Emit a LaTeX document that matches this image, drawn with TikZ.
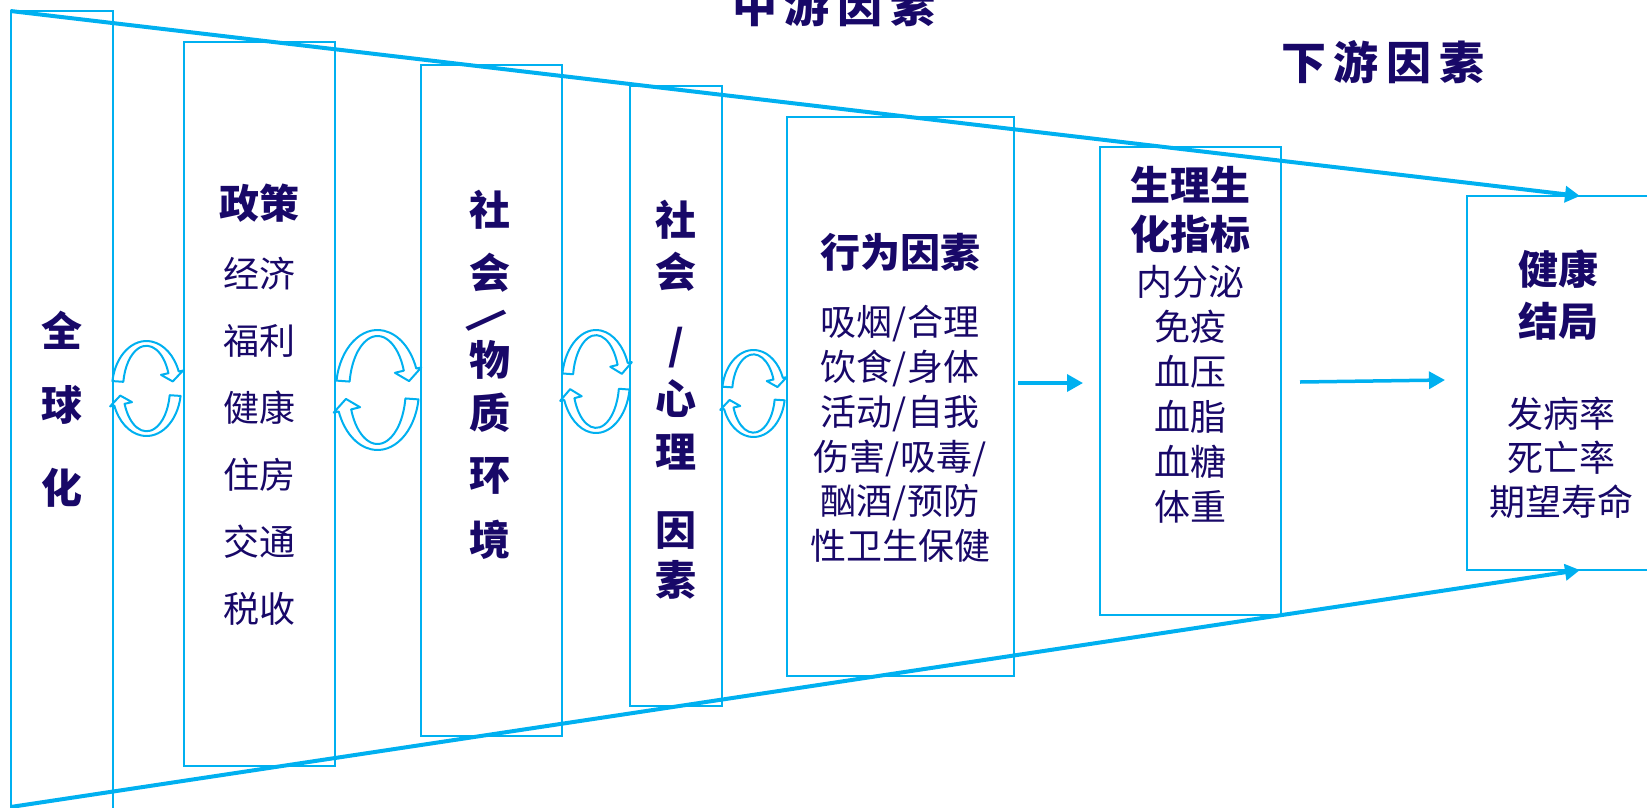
\documentclass[tikz,border=0pt]{standalone}
\usepackage{fontspec}
\setmainfont{Noto Sans CJK SC}
\usetikzlibrary{arrows.meta}
\definecolor{ln}{HTML}{00B0F0}
\definecolor{tx}{RGB}{24,8,104}
\newcommand\cycpair[4]{%
  \begin{scope}[shift={(#1,#2)},x=1pt,y=1pt]
    \pgfmathsetmacro\oa{#3}\pgfmathsetmacro\ob{#4}%
    \pgfmathsetmacro\ia{0.68*#3}\pgfmathsetmacro\ib{0.9*#4}%
    \pgfmathsetmacro\ta{0.77*#3}\pgfmathsetmacro\tb{0.95*#4}%
    \pgfmathsetmacro\woa{1.13*#3}\pgfmathsetmacro\wob{1.05*#4}%
    \pgfmathsetmacro\wia{0.45*#3}\pgfmathsetmacro\wib{0.8*#4}%
    \foreach \r in {0,180}{
      \filldraw[cycarrow,rotate=\r] (171:\oa\space and \ob)
        arc[start angle=171,end angle=21,x radius=\oa,y radius=\ob]
        -- (21:\woa\space and \wob) -- (9:\ta\space and \tb) -- (21:\wia\space and \wib)
        -- (21:\ia\space and \ib)
        arc[start angle=21,end angle=171,x radius=\ia,y radius=\ib] -- cycle;
    }
  \end{scope}}
\begin{document}
\begin{tikzpicture}[x=1pt,y=-1pt,
  box/.style={draw=ln,line width=2pt,inner sep=0pt,outer sep=0pt,rectangle},
  funnel/.style={draw=ln,line width=4pt,-{Triangle[length=15pt,width=16pt]}},
  conn/.style={draw=ln,line width=3.5pt,-{Triangle[length=16pt,width=17pt]}},
  cycarrow/.style={draw=ln,fill=white,line width=2pt,line join=round},
  vb/.style={text=tx,inner sep=0pt,font=\fontsize{41}{48}\selectfont\bfseries},
  hb/.style={text=tx,inner sep=0pt,align=center},
  hr/.style={text=tx,inner sep=0pt,align=center},
  ttl/.style={text=tx,inner sep=0pt,font=\fontsize{45}{50}\selectfont\bfseries}]
\useasboundingbox (0,0) rectangle (1647,807);
% circular arrows
\cycpair{146.5}{388.5}{34.5}{47.5}
\cycpair{377.5}{390}{41.5}{60}
\cycpair{596}{381.5}{34}{51.5}
\cycpair{753.5}{393.5}{31.5}{43.5}
% boxes
\node[box,minimum width=102.5pt,minimum height=889pt] (b1) at (61.75,455.5) {};
\node[box,minimum width=151pt,minimum height=724pt] (b2) at (259.5,404) {};
\node[box,minimum width=141pt,minimum height=671pt] (b3) at (491.5,400.5) {};
\node[box,minimum width=91.5pt,minimum height=620pt] (b4) at (675.75,396) {};
\node[box,minimum width=226.5pt,minimum height=559pt] (b5) at (900.25,396.5) {};
\node[box,minimum width=181pt,minimum height=467.5pt] (b6) at (1190.5,380.75) {};
\node[box,minimum width=233pt,minimum height=374pt] (b7) at (1583.5,383) {};
% funnel lines
\coordinate (ftr) at (1580,196);
\coordinate (fbl) at (10.5,807);
\coordinate (fbr) at (1580,570);
\draw[funnel] (b1.north west) -- (ftr);
\draw[funnel] (fbl) -- (fbr);
% arrows between boxes
\coordinate (a1s) at (1018,383);
\coordinate (a1e) at (1083,383);
\coordinate (a2s) at (1300,382);
\coordinate (a2e) at (1445,380);
\draw[conn] (a1s) -- (a1e);
\draw[conn] (a2s) -- (a2e);
% titles
\node[ttl] (tmid) at (834,5) {中\hspace{8pt}游\hspace{8pt}因\hspace{8pt}素};
\node[ttl] (tdown) at (1383,62) {下\hspace{8pt}游\hspace{8pt}因\hspace{8pt}素};
% box 1
\node[vb] (g1) at (62,330) {全};
\node[vb] (g2) at (62,405) {球};
\node[vb] (g3) at (62,488) {化};
% box 2
\node[hb,font=\fontsize{40}{49}\selectfont\bfseries] (p0) at (259.5,203) {政策};
\node[hr,font=\fontsize{36}{67}\selectfont] (p1) at (259.5,441.5) {经济\\福利\\健康\\住房\\交通\\税收};
% box 3
\node[vb] (s1) at (490,210) {社};
\node[vb] (s2) at (490,273) {会};
\node[vb] (s3) at (487,321) {\rotatebox{-53}{/}};
\node[vb] (s4) at (490,360) {物};
\node[vb] (s5) at (490,413) {质};
\node[vb] (s6) at (490,476) {环};
\node[vb] (s7) at (490,540) {境};
% box 4
\node[vb] (q1) at (676,220) {社};
\node[vb] (q2) at (676,272) {会};
\node[vb] (q3) at (676,348) {/};
\node[vb] (q4) at (676,399) {心};
\node[vb] (q5) at (676,452) {理};
\node[vb] (q6) at (676,531) {因};
\node[vb] (q7) at (676,580) {素};
% box 5
\node[hb,font=\fontsize{40}{49}\selectfont\bfseries] (h0) at (900,252) {行为因素};
\node[hr,font=\fontsize{36}{44.8}\selectfont] (h1) at (900,434) {吸烟/合理\\饮食/身体\\活动/自我\\伤害/吸毒/\\酗酒/预防\\性卫生保健};
% box 6
\node[hb,font=\fontsize{40}{49}\selectfont\bfseries] (m0) at (1190,209.5) {生理生\\化指标};
\node[hr,font=\fontsize{36}{45}\selectfont] (m1) at (1190,394.5) {内分泌\\免疫\\血压\\血脂\\血糖\\体重};
% box 7
\node[hb,font=\fontsize{40}{52}\selectfont\bfseries] (o0) at (1558,295) {健康\\结局};
\node[hr,font=\fontsize{36}{44}\selectfont] (o1) at (1561,458) {发病率\\死亡率\\期望寿命};
\end{tikzpicture}
\end{document}
